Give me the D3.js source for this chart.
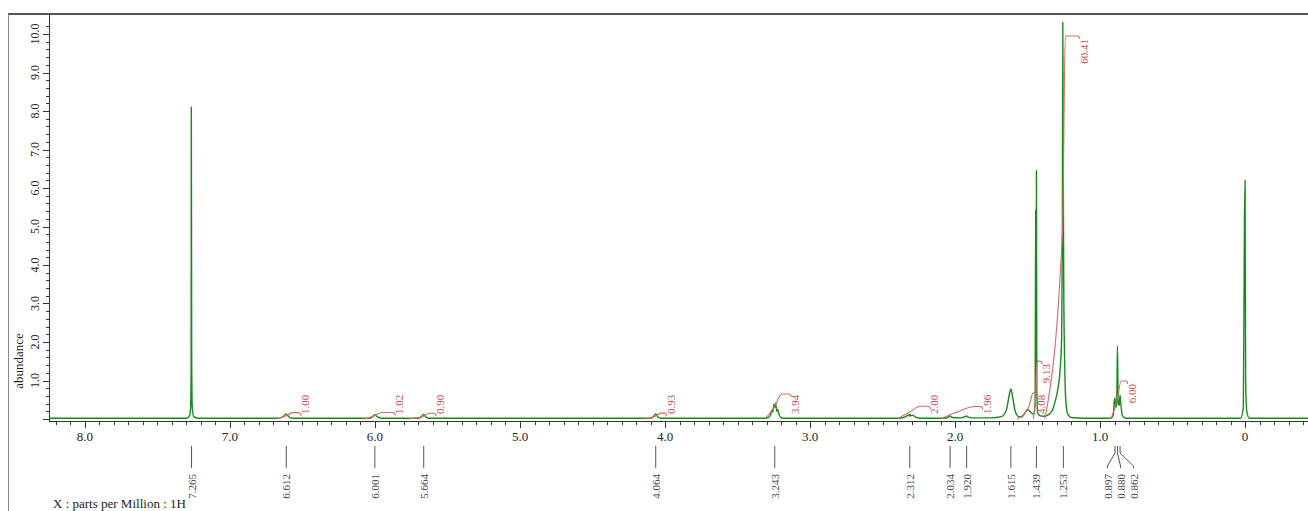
<!DOCTYPE html>
<html>
<head>
<meta charset="utf-8">
<script src="https://cdnjs.cloudflare.com/ajax/libs/d3/7.8.5/d3.min.js"></script>
<style>
    body { margin: 0; background: #fff; }
    svg text { font-family: "Liberation Serif", "Times New Roman", serif; }
</style>
</head>
<body>
<svg id="nmr" width="1308" height="511"></svg>
<script>

// spectrum trace (ppm going down, abundance)
var specPpm = [8.25, 7.30, 7.28, 7.272, 7.268, 7.2665, 7.264, 7.26, 7.25, 7.22,
    6.66, 6.63, 6.612, 6.595, 6.57,
    6.04, 6.015, 6.001, 5.985, 5.96,
    5.70, 5.675, 5.664, 5.65, 5.63,
    4.10, 4.075, 4.064, 4.05, 4.03,
    3.30, 3.275, 3.262, 3.256, 3.249, 3.243, 3.237, 3.230, 3.223, 3.21, 3.19,
    2.38, 2.34, 2.325, 2.318, 2.312, 2.305, 2.295, 2.27, 2.24,
    2.07, 2.045, 2.034, 2.02, 1.96, 1.93, 1.92, 1.91, 1.88,
    1.75, 1.68, 1.645, 1.625, 1.615, 1.605, 1.585, 1.56,
    1.54, 1.51, 1.495, 1.48, 1.46, 1.448, 1.444, 1.442, 1.439, 1.436, 1.43, 1.41,
    1.39, 1.36, 1.33, 1.31, 1.29, 1.275, 1.265, 1.26, 1.257, 1.254, 1.25, 1.245, 1.238, 1.225, 1.20,
    1.10, 0.93, 0.91, 0.902, 0.897, 0.892, 0.885, 0.880, 0.875, 0.868, 0.862, 0.857, 0.845, 0.82,
    0.03, 0.012, 0.004, 0.0, -0.004, -0.012, -0.03, -0.434];
var specInt = [0.02, 0.02, 0.08, 0.25, 1.1, 8.1, 1.5, 0.3, 0.06, 0.02,
    0.02, 0.07, 0.13, 0.06, 0.02,
    0.02, 0.07, 0.11, 0.06, 0.02,
    0.02, 0.08, 0.12, 0.06, 0.02,
    0.02, 0.08, 0.13, 0.06, 0.02,
    0.02, 0.08, 0.22, 0.18, 0.38, 0.30, 0.42, 0.20, 0.24, 0.08, 0.02,
    0.02, 0.06, 0.10, 0.08, 0.12, 0.08, 0.10, 0.05, 0.02,
    0.02, 0.05, 0.08, 0.04, 0.03, 0.06, 0.08, 0.05, 0.03,
    0.03, 0.06, 0.25, 0.65, 0.78, 0.62, 0.20, 0.06,
    0.06, 0.20, 0.24, 0.18, 0.12, 0.40, 5.45, 1.2, 6.45, 0.8, 0.15, 0.08,
    0.07, 0.10, 0.22, 0.45, 0.80, 1.3, 2.1, 4.6, 10.3, 6.8, 3.2, 1.7, 0.6, 0.15, 0.04,
    0.02, 0.02, 0.08, 0.45, 0.55, 0.30, 0.40, 1.9, 0.45, 0.35, 0.62, 0.40, 0.08, 0.02,
    0.02, 0.3, 5.25, 6.2, 1.0, 0.2, 0.02, 0.02];

// picked peaks
var peakPpm = [7.265, 6.612, 6.001, 5.664, 4.064, 3.243, 2.312, 2.034, 1.920, 1.615, 1.439, 1.253, 0.897, 0.880, 0.862];
var peakLabels = ["7.265", "6.612", "6.001", "5.664", "4.064", "3.243", "2.312", "2.034", "1.920", "1.615", "1.439", "1.253", "0.897", "0.880", "0.862"];

// integrals: where the curve starts, half way, tops out, ends, and the value
var intStart = [6.68, 6.08, 5.78, 4.13, 3.31, 2.40, 2.10, 1.57, 1.46, 1.38, 0.925];
var intMid   = [6.612, 6.001, 5.664, 4.064, 3.245, 2.32, 2.00, 1.49, 1.441, 1.258, 0.882];
var intTop   = [6.57, 5.955, 5.625, 4.03, 3.195, 2.24, 1.86, 1.462, 1.434, 1.24, 0.855];
var intEnd   = [6.53, 5.88, 5.60, 4.01, 3.15, 2.19, 1.83, 1.455, 1.42, 1.16, 0.83];
var intValues = [1.00, 1.02, 0.90, 0.93, 3.94, 2.00, 1.96, 4.08, 9.13, 60.41, 6.00];
var intLabels = ["1.00", "1.02", "0.90", "0.93", "3.94", "2.00", "1.96", "4.08", "9.13", "60.41", "6.00"];

// axis ticks
var xTickValues = [8, 7, 6, 5, 4, 3, 2, 1, 0];
var xTickLabels = ["8.0", "7.0", "6.0", "5.0", "4.0", "3.0", "2.0", "1.0", "0"];
var yTickValues = [1, 2, 3, 4, 5, 6, 7, 8, 9, 10];
var yTickLabels = ["1.0", "2.0", "3.0", "4.0", "5.0", "6.0", "7.0", "8.0", "9.0", "10.0"];


var green = "#168a1b",
    red = "#d36a6a",
    redText = "#c8474a",
    ink = "#333";

var svg = d3.select("#nmr");

var plot = {left: 49, right: 1308, top: 14, base: 419, axisY: 421};

var x = d3.scaleLinear()
    .domain([8.248, -0.434])
    .range([plot.left, plot.right]);

var y = d3.scaleLinear()
    .domain([0, 10])
    .range([plot.base, 34]);

// integral curves have their own vertical scale
var yInt = d3.scaleLinear()
    .domain([0, 60.41])
    .range([plot.base, 36]);

// frame
svg.append("line")
    .attr("x1", 8).attr("x2", 1308)
    .attr("y1", 14).attr("y2", 14)
    .attr("stroke", "#555").attr("stroke-width", 2);
svg.append("line")
    .attr("x1", 8.5).attr("x2", 8.5)
    .attr("y1", 14).attr("y2", 511)
    .attr("stroke", "#888").attr("stroke-width", 1);

svg.append("defs").append("clipPath")
    .attr("id", "clip")
    .append("rect")
    .attr("x", plot.left).attr("y", plot.top)
    .attr("width", plot.right - plot.left)
    .attr("height", plot.axisY - plot.top);

// y axis
var yAxisG = svg.append("g")
    .attr("transform", "translate(" + plot.left + ",0)");

yAxisG.append("line")
    .attr("x1", 0.5).attr("x2", 0.5)
    .attr("y1", plot.top).attr("y2", plot.axisY)
    .attr("stroke", ink);

yAxisG.selectAll(".yminor")
    .data(d3.range(0, 52).map(function(i) { return i * 0.2; }))
    .enter()
    .append("line")
    .attr("x1", function(d, i) { return i % 5 == 0 ? -6 : -3; })
    .attr("x2", 0)
    .attr("y1", function(d) { return Math.round(y(d)) + 0.5; })
    .attr("y2", function(d) { return Math.round(y(d)) + 0.5; })
    .attr("stroke", ink);

yAxisG.selectAll(".ylab")
    .data(yTickValues)
    .enter()
    .append("text")
    .attr("transform", function(d) { return "translate(-10," + y(d) + ") rotate(-90)"; })
    .attr("text-anchor", "middle")
    .attr("font-size", 12)
    .attr("fill", "#222")
    .text(function(d, i) { return yTickLabels[i]; });

svg.append("text")
    .attr("transform", "translate(23,361) rotate(-90)")
    .attr("text-anchor", "middle")
    .attr("font-size", 13)
    .attr("fill", "#222")
    .text("abundance");

// x axis
var xAxisG = svg.append("g")
    .attr("transform", "translate(0," + plot.axisY + ")");

xAxisG.append("line")
    .attr("x1", plot.left).attr("x2", plot.right)
    .attr("y1", 0.5).attr("y2", 0.5)
    .attr("stroke", ink);

var minorX = d3.range(-4, 83).map(function(i) { return i / 10; });

xAxisG.selectAll(".xminor")
    .data(minorX)
    .enter()
    .append("line")
    .attr("x1", function(d) { return Math.round(x(d)) + 0.5; })
    .attr("x2", function(d) { return Math.round(x(d)) + 0.5; })
    .attr("y1", 0)
    .attr("y2", function(d) { return Math.abs(d * 10 % 10) < 0.01 ? 7 : 4; })
    .attr("stroke", ink);

xAxisG.selectAll(".xlab")
    .data(xTickValues)
    .enter()
    .append("text")
    .attr("x", function(d) { return x(d); })
    .attr("y", 20)
    .attr("text-anchor", "middle")
    .attr("font-size", 13)
    .attr("fill", "#222")
    .text(function(d, i) { return xTickLabels[i]; });

svg.append("text")
    .attr("x", 53)
    .attr("y", 508)
    .attr("font-size", 13)
    .attr("fill", "#222")
    .text("X : parts per Million : 1H");

// spectrum
var spec = specPpm.map(function(p, i) { return {ppm: p, val: specInt[i]}; });

var line = d3.line()
    .x(function(d) { return x(d.ppm); })
    .y(function(d) { return y(d.val); })
    .curve(d3.curveMonotoneX);

var plotG = svg.append("g").attr("clip-path", "url(#clip)");

plotG.append("path")
    .datum(spec)
    .attr("d", line)
    .attr("fill", "none")
    .attr("stroke", green)
    .attr("stroke-width", 1.4);

// integrals
var intLine = d3.line()
    .x(function(d) { return d[0]; })
    .y(function(d) { return d[1]; })
    .curve(d3.curveMonotoneX);

intValues.forEach(function(v, i) {
    var yTop = yInt(v);
    var xe = x(intEnd[i]);
    var pts = [
        [x(intStart[i]), plot.base],
        [x(intMid[i]), (plot.base + yTop) / 2],
        [x(intTop[i]), yTop],
        [xe, yTop]
    ];
    // little hook at the end of each curve
    var path = intLine(pts) + " Q" + (xe + 3) + "," + yTop + " " + (xe + 3) + "," + (yTop + 3);

    plotG.append("path")
        .attr("d", path)
        .attr("fill", "none")
        .attr("stroke", red)
        .attr("stroke-width", 1.1);

    var t = svg.append("text")
        .attr("text-anchor", "end")
        .attr("font-size", 11)
        .attr("fill", redText)
        .text(intLabels[i]);
    var len = t.node().getComputedTextLength();
    var top = Math.min(yTop + 3, 414 - len);
    t.attr("transform", "translate(" + (xe + 11) + "," + top + ") rotate(-90)");
});

// peak labels, spread apart where they crowd
var peaks = peakPpm.map(function(p, i) { return {px: x(p), label: peakLabels[i]}; });
var groups = [];
peaks.forEach(function(d) {
    var g = groups[groups.length - 1];
    if (g && d.px - g[g.length - 1].px < 13) g.push(d);
    else groups.push([d]);
});
groups.forEach(function(g) {
    var c = d3.mean(g, function(d) { return d.px; }) + (g.length > 1 ? 3 : 0);
    g.forEach(function(d, i) { d.lx = c + (i - (g.length - 1) / 2) * 13; });
});

var peakG = svg.append("g");

peakG.selectAll(".pline")
    .data(peaks)
    .enter()
    .append("path")
    .attr("d", function(d) {
        return "M" + d.px + ",446 L" + d.px + ",453 L" + d.lx + ",466 L" + d.lx + ",468";
    })
    .attr("fill", "none")
    .attr("stroke", "#555")
    .attr("stroke-width", 1);

peakG.selectAll(".plab")
    .data(peaks)
    .enter()
    .append("text")
    .attr("transform", function(d) { return "translate(" + (d.lx + 4) + ",474) rotate(-90)"; })
    .attr("text-anchor", "end")
    .attr("font-size", 11)
    .attr("fill", "#444")
    .text(function(d) { return d.label; });

</script>
</body>
</html>
